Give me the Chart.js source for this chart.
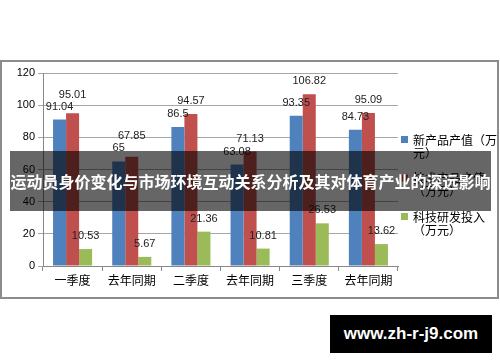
<!DOCTYPE html>
<html>
<head>
<meta charset="utf-8">
<script src="https://cdn.jsdelivr.net/npm/chart.js@4.4.1/dist/chart.umd.min.js"></script>
<style>
    html, body { margin: 0; padding: 0; background: #fff; }
    #wrap { position: relative; width: 500px; height: 362px; overflow: hidden; }
    #banner {
        position: absolute; left: 10px; top: 151px; width: 481px; height: 60px;
        background: rgba(0, 0, 0, 0.6); color: #fff;
        font: bold 16px "Noto Sans CJK SC", sans-serif;
        line-height: 60px; text-align: center; white-space: nowrap;
    }
    #mark {
        position: absolute; left: 330px; top: 315px; width: 162px; height: 38px;
        background: #000; color: #fff;
        font: bold 17px "Liberation Sans", Arial, sans-serif;
        line-height: 38px; text-align: center;
    }
</style>
</head>
<body>
<div id="wrap">
    <canvas id="barChart" width="500" height="362"></canvas>
    <div id="banner">运动员身价变化与市场环境互动关系分析及其对体育产业的深远影响</div>
    <div id="mark">www.zh-r-j9.com</div>
</div>
<script>
// Chart data
const categories = ['一季度', '去年同期', '二季度', '去年同期', '三季度', '去年同期'];
const seriesNames = ['新产品产值（万元）', '技术产品产值（万元）', '科技研发投入（万元）'];
const newProductValues = [91.04, 65, 86.5, 63.08, 93.35, 84.73];
const techProductValues = [95.01, 67.85, 94.57, 71.13, 106.82, 95.09];
const researchValues = [10.53, 5.67, 21.36, 10.81, 26.53, 13.62];
const yTicks = [0, 20, 40, 60, 80, 100, 120];

const colors = ['#4F81BD', '#C0504D', '#9BBB59'];
const numFont = '11px "Liberation Sans", Arial, sans-serif';
const cjkFont = '12px "Noto Sans CJK SC", sans-serif';

// Outer frame, drawn behind the chart
const framePlugin = {
    id: 'frame',
    beforeDraw(chart) {
        const ctx = chart.ctx;
        ctx.save();
        ctx.fillStyle = '#fff';
        ctx.fillRect(0, 0, chart.width, chart.height);
        ctx.strokeStyle = '#8c8c8c';
        ctx.lineWidth = 2;
        ctx.strokeRect(1, 61, 497, 237);
        ctx.restore();
    }
};

// Value labels above the bars, lifted when they collide
const valueLabelPlugin = {
    id: 'valueLabels',
    afterDatasetsDraw(chart) {
        const ctx = chart.ctx;
        ctx.save();
        ctx.font = numFont;
        ctx.fillStyle = '#222';
        ctx.textAlign = 'center';
        ctx.textBaseline = 'middle';
        categories.forEach((c, i) => {
            const placed = [];
            chart.data.datasets.forEach((ds, d) => {
                const bar = chart.getDatasetMeta(d).data[i];
                const text = String(ds.data[i]);
                const w = ctx.measureText(text).width;
                let y = bar.y - 13;
                placed.forEach(p => {
                    const overlapX = Math.abs(p.x - bar.x) < (p.w + w) / 2;
                    if (overlapX && Math.abs(p.y - y) < 12) {
                        y = p.y - 12;
                    }
                });
                placed.push({ x: bar.x, y: y, w: w });
                ctx.fillText(text, bar.x, y);
            });
        });
        ctx.restore();
    }
};

// Legend on the right with wrapped labels
const sideLegendPlugin = {
    id: 'sideLegend',
    afterDraw(chart) {
        const ctx = chart.ctx;
        ctx.save();
        ctx.font = cjkFont;
        ctx.textBaseline = 'middle';
        const maxW = 86;
        let y = 140;
        chart.data.datasets.forEach(ds => {
            // wrap text, never leave an opening bracket at line end
            const lines = [];
            let line = '';
            for (const ch of ds.label) {
                if (ctx.measureText(line + ch).width > maxW) {
                    if (line.endsWith('（')) {
                        lines.push(line.slice(0, -1));
                        line = '（' + ch;
                    } else {
                        lines.push(line);
                        line = ch;
                    }
                } else {
                    line += ch;
                }
            }
            if (line) lines.push(line);
            ctx.fillStyle = ds.backgroundColor;
            ctx.fillRect(401, y - 4, 7, 7);
            ctx.fillStyle = '#000';
            lines.forEach((l, k) => ctx.fillText(l, 413, y + k * 13));
            y += 38.5;
        });
        ctx.restore();
    }
};

const ctx = document.getElementById('barChart').getContext('2d');
window.barChartInstance = new Chart(ctx, {
    type: 'bar',
    data: {
        labels: categories,
        datasets: [
            { label: seriesNames[0], data: newProductValues, backgroundColor: colors[0] },
            { label: seriesNames[1], data: techProductValues, backgroundColor: colors[1] },
            { label: seriesNames[2], data: researchValues, backgroundColor: colors[2] }
        ]
    },
    options: {
        responsive: false,
        animation: false,
        devicePixelRatio: 1,
        categoryPercentage: 0.66,
        barPercentage: 1.0,
        layout: { padding: { left: 0, top: 73, right: 102, bottom: 0 } },
        scales: {
            x: {
                afterFit(s) { s.height = 96; },
                grid: { display: true, drawOnChartArea: false, tickLength: 5, color: '#888' },
                border: { color: '#888' },
                ticks: {
                    font: { family: '"Noto Sans CJK SC"', size: 12 },
                    color: '#000',
                    padding: 2,
                    maxRotation: 0,
                    autoSkip: false
                }
            },
            y: {
                min: 0,
                max: 120,
                afterFit(s) { s.width = 43; },
                afterBuildTicks(s) { s.ticks = yTicks.map(v => ({ value: v })); },
                grid: { color: '#a6a6a6', tickLength: 5 },
                border: { color: '#888' },
                ticks: {
                    font: { family: '"Liberation Sans", Arial', size: 11 },
                    color: '#000',
                    padding: 3
                }
            }
        },
        plugins: {
            legend: { display: false },
            tooltip: { enabled: false },
            title: { display: false }
        }
    },
    plugins: [framePlugin, valueLabelPlugin, sideLegendPlugin]
});
</script>
</body>
</html>
